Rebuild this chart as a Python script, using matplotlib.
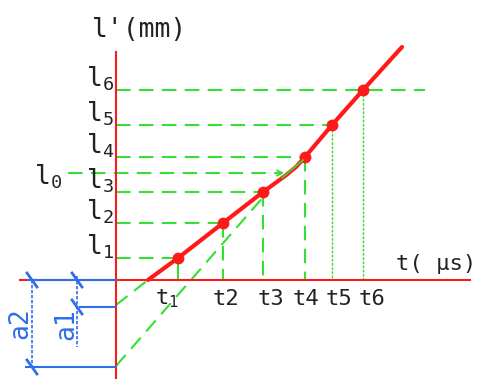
import matplotlib.pyplot as plt

plt.rcParams["font.family"] = ["DejaVu Sans Mono"]
plt.rcParams["mathtext.fontset"] = "custom"
plt.rcParams["mathtext.rm"] = "DejaVu Sans Mono"
plt.rcParams["mathtext.it"] = "DejaVu Sans Mono"

# diagram units: horizontal = t position, vertical = l' position (top-down)
T0 = 116
L0_AXIS = 280

# measured points on the curve
t_pts = [178, 223, 263, 305, 332, 363]
l_pts = [258, 223, 192, 157, 125, 90]
point_names = ["1", "2", "3", "4", "5", "6"]

# full red curve (start on t axis, bend between points 3 and 4, run-out)
curve_t = [148, 178, 223, 263, 285, 296, 305, 332, 363, 402]
curve_l = [280, 258, 223, 192, 176, 167, 157, 125, 90, 47]

l0_level = 173
a1_level = 305
a2_level = 366

RED = "#ff1a1a"
GREEN = "#33e033"
BLUE = "#2f6fe8"
INK = "#222222"

fig = plt.figure(figsize=(4.79, 3.79), dpi=100)
ax = fig.add_axes([0, 0, 1, 1])
ax.set_xlim(0, 479)
ax.set_ylim(379, 0)
ax.axis("off")

dash = (0, (7, 4))

# projection lines from each point to the axes
for i, (t, l) in enumerate(zip(t_pts, l_pts)):
    end = 425 if i == 5 else t
    ax.plot([T0, end], [l, l], color=GREEN, lw=1.5, ls=dash, zorder=2)
    if i == 0:
        ax.plot([t, t], [l, L0_AXIS], color=GREEN, lw=1.5, zorder=2)
    elif i < 4:
        ax.plot([t, t], [l, L0_AXIS], color=GREEN, lw=1.5, ls=dash, zorder=2)
    else:
        ax.plot([t, t], [l, L0_AXIS], color=GREEN, lw=1.0, ls=(0, (2, 1)), zorder=2)

# l0 level with arrow onto the curve
ax.plot([68, 280], [l0_level, l0_level], color=GREEN, lw=1.5, ls=dash, zorder=2)
ax.annotate("", xy=(287, l0_level), xytext=(276, l0_level),
            arrowprops=dict(arrowstyle="->", color=GREEN, lw=1.2), zorder=2)

# extrapolated straight parts down to the l' axis
ax.plot([T0, curve_t[0]], [a1_level, L0_AXIS], color=GREEN, lw=1.5, ls=dash, zorder=2)
ax.plot([T0, 265], [a2_level, 195], color=GREEN, lw=1.5, ls=dash, zorder=2)

# axes
ax.plot([20, 470], [L0_AXIS, L0_AXIS], color=RED, lw=1.5, zorder=3)
ax.plot([T0, T0], [52, 379], color=RED, lw=1.5, zorder=3)

# curve and points
ax.plot(curve_t, curve_l, color=RED, lw=3, solid_capstyle="round", zorder=4)
ax.plot(t_pts, l_pts, "o", color=RED, ms=7.5, zorder=5)
ax.plot([282, 303], [178, 160], color=GREEN, lw=1.2, zorder=6)

# dimension lines for a1, a2
ax.plot([28, T0], [L0_AXIS, L0_AXIS], color=BLUE, lw=1.5, zorder=3)
ax.plot([80, T0], [a1_level + 2, a1_level + 2], color=BLUE, lw=1.5, zorder=3)
ax.plot([26, T0], [a2_level + 1, a2_level + 1], color=BLUE, lw=1.5, zorder=3)
ax.plot([32, 32], [L0_AXIS, a2_level + 1], color=BLUE, lw=1.2, ls=(0, (2, 1)), zorder=3)
ax.plot([77, 77], [276, 347], color=BLUE, lw=1.2, ls=(0, (2, 1)), zorder=3)
for x, y in [(32, L0_AXIS), (32, a2_level + 1), (77, L0_AXIS), (77, a1_level + 2)]:
    ax.plot([x - 5, x + 5], [y - 7, y + 7], color=BLUE, lw=2, zorder=3)

ax.text(20, 323, "a2", color=BLUE, fontsize=19, rotation=90,
        ha="center", va="center")
ax.text(66, 324, "a1", color=BLUE, fontsize=19, rotation=90,
        ha="center", va="center")

# labels
ax.text(140, 30, "l'(mm)", color=INK, fontsize=19, ha="center", va="center")
ax.text(436, 264, "t( μs)", color=INK, fontsize=16, ha="center", va="center")

for name, l in zip(point_names, l_pts):
    ax.text(114, l + 3, "l$_{%s}$" % name, color=INK, fontsize=19,
            ha="right", va="bottom")
ax.text(62, l0_level + 4, "l$_0$", color=INK, fontsize=19, ha="right", va="center")

t_label_x = [167, 226, 271, 306, 339, 372]
for i, (name, x) in enumerate(zip(point_names, t_label_x)):
    label = "t$_{%s}$" % name if i == 0 else "t" + name
    ax.text(x, 299, label, color=INK, fontsize=16, ha="center", va="center")

fig.savefig("out.png", dpi=100)
